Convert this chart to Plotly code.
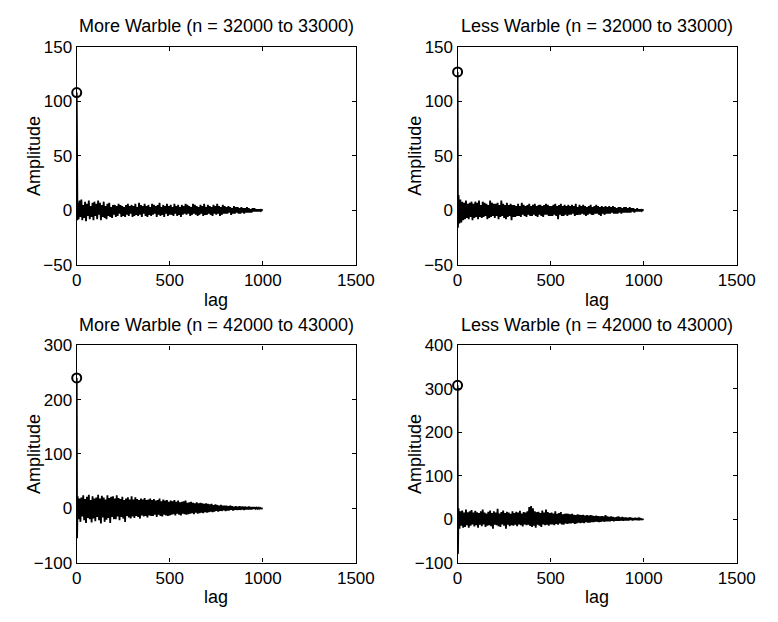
import plotly.graph_objects as go

# lags: 0..4 then every 5 up to 1000
lags = [0, 1, 2, 3, 4] + list(range(5, 1001, 5))

titles = [
    "More Warble (n = 32000 to 33000)",
    "Less Warble (n = 32000 to 33000)",
    "More Warble (n = 42000 to 43000)",
    "Less Warble (n = 42000 to 43000)",
]

more_32000 = [108, 2, -6, 5, -9,
    7, -8, 9, -6, 10, -9, 5, -7, 8, -10, 6, -5, 9, -8, 4, -6, 7, -9, 8, -5,
    6, -8, 9, -4, 7, -9, 5, -6, 8, -7, 4, -8, 6, -5, 7, -6, 3, -7, 5, -4,
    5, -6, 4, -5, 6, -3, 5, -6, 4, -5, 3, -6, 5, -4, 6, -5, 4, -3, 5, -6,
    4, -5, 6, -4, 3, -5, 7, -4, 5, -6, 4, -3, 6, -5, 4, -6, 5, -4, 3, -5,
    6, -4, 5, -3, 4, -6, 5, -4, 7, -5, 3, -4, 5, -6, 4, -3, 6, -5, 4, -4,
    5, -4, 3, -5, 6, -3, 4, -5, 5, -4, 3, -6, 5, -4, 4, -3, 6, -4, 5, -3,
    4, -5, 3, -4, 6, -3, 5, -4, 4, -5, 3, -4, 5, -3, 4, -5, 6, -4, 3, -4,
    5, -3, 4, -4, 3, -5, 5, -3, 4, -4, 6, -3, 4, -5, 3, -4, 5, -3, 4, -3,
    3, -3, 4, -2, 3, -4, 2, -3, 4, -3, 3, -2, 3, -3, 2, -3, 3, -2, 2, -3,
    2, -2, 3, -2, 2, -2, 1, -2, 2, -1, 2, -1, 1, -1, 1, -1, 1, -0.5, 0.5, 0]

less_32000 = [127, 18, -16, 12, -14,
    14, -12, 10, -11, 8, -9, 7, -8, 9, -7, 6, -8, 7, -6, 8, -9, 6, -7, 8, -6,
    7, -8, 9, -6, 5, -7, 8, -6, 7, -5, 6, -8, 5, -7, 9, -6, 7, -5, 6, -7,
    6, -5, 7, -8, 5, -6, 9, -5, 6, -7, 5, -8, 7, -6, 5, -5, 6, -9, 5, -6,
    5, -6, 4, -5, 6, -5, 4, -6, 7, -4, 5, -5, 4, -6, 5, -4, 6, -5, 4, -5,
    5, -4, 6, -5, 4, -6, 5, -4, 5, -5, 4, -6, 5, -4, 6, -4, 5, -5, 4, -5,
    4, -5, 5, -4, 6, -5, 4, -8, 5, -4, 6, -5, 4, -5, 5, -4, 4, -5, 5, -4,
    4, -4, 5, -3, 4, -5, 6, -4, 3, -4, 5, -4, 4, -3, 5, -4, 4, -5, 3, -4,
    4, -3, 5, -4, 3, -4, 4, -3, 5, -3, 4, -4, 3, -5, 4, -3, 3, -4, 4, -3,
    3, -3, 4, -3, 3, -2, 4, -3, 3, -3, 2, -3, 3, -2, 3, -3, 2, -2, 3, -2,
    3, -2, 2, -2, 3, -2, 2, -1, 2, -2, 1, -1, 2, -1, 1, -1, 1, -0.5, 0.5, 0]

more_42000 = [240, 20, -55, 25, -28,
    22, -20, 18, -25, 20, -15, 24, -22, 17, -27, 21, -18, 25, -20, 15, -26, 22, -19, 18, -24,
    20, -16, 25, -22, 18, -28, 23, -17, 20, -25, 16, -21, 24, -18, 19, -27, 21, -16, 22, -20,
    18, -20, 24, -15, 19, -22, 17, -16, 21, -19, 15, -25, 18, -14, 20, -17, 16, -19, 22, -15,
    16, -18, 20, -14, 17, -16, 15, -19, 18, -13, 16, -15, 19, -14, 15, -17, 16, -13, 18, -14,
    15, -14, 17, -12, 14, -16, 15, -12, 18, -14, 13, -15, 16, -12, 14, -13, 15, -14, 12, -13,
    14, -12, 13, -11, 15, -13, 12, -10, 14, -12, 11, -13, 12, -10, 13, -11, 14, -12, 10, -11,
    11, -10, 12, -9, 10, -11, 9, -8, 11, -10, 9, -9, 10, -8, 9, -9, 8, -7, 9, -8,
    8, -7, 7, -6, 8, -7, 6, -6, 7, -5, 6, -6, 5, -5, 6, -5, 5, -4, 5, -5,
    5, -4, 4, -4, 5, -3, 4, -4, 3, -3, 4, -3, 3, -3, 4, -3, 3, -2, 3, -3,
    3, -2, 2, -2, 3, -2, 2, -2, 2, -1, 2, -1, 1, -1, 1, -1, 1, -0.5, 0.5, 0]

less_42000 = [308, 40, -80, 30, -25,
    25, -22, 18, -15, 20, -20, 15, -18, 22, -14, 16, -20, 18, -15, 21, -12, 15, -17, 19, -14,
    16, -20, 14, -13, 18, -16, 22, -12, 15, -18, 13, -15, 17, -14, 20, -16, 14, -22, 18, -13,
    15, -14, 24, -16, 13, -18, 16, -12, 20, -15, 14, -22, 17, -13, 15, -16, 12, -14, 18, -15,
    14, -13, 17, -16, 15, -12, 19, -14, 13, -17, 16, -12, 15, -14, 18, -13, 28, -16, 30, -18,
    25, -15, 18, -20, 16, -13, 17, -15, 14, -18, 20, -12, 15, -14, 22, -13, 16, -15, 14, -12,
    15, -12, 13, -14, 18, -11, 12, -13, 14, -10, 16, -12, 11, -13, 12, -10, 13, -11, 12, -10,
    11, -10, 12, -9, 10, -11, 9, -10, 11, -8, 10, -9, 9, -8, 10, -9, 8, -7, 9, -8,
    8, -8, 9, -7, 8, -7, 7, -6, 8, -6, 7, -7, 6, -6, 7, -5, 6, -6, 9, -5,
    6, -5, 5, -5, 6, -4, 5, -5, 4, -4, 5, -4, 6, -4, 4, -3, 5, -4, 4, -3,
    4, -3, 3, -3, 4, -2, 3, -3, 2, -2, 3, -2, 2, -2, 2, -1, 1, -1, 0.5, 0]

series = [more_32000, less_32000, more_42000, less_42000]
y_ranges = [[-50, 150], [-50, 150], [-100, 300], [-100, 400]]
y_dtick = [50, 50, 100, 100]
x_ticks = [0, 500, 1000, 1500]

W, H = 778, 622
# panel boxes in pixels: (left, right, top, bottom)
boxes = [(74, 362, 39, 264), (467, 755, 39, 264),
         (74, 362, 347, 571), (467, 755, 347, 571)]

FONT = "Liberation Sans, Arial, Helvetica, sans-serif"
fig = go.Figure()
annotations = []
for i, (vals, box) in enumerate(zip(series, boxes)):
    k = "" if i == 0 else str(i + 1)
    l, r, t, b = box
    fig.add_trace(go.Scatter(x=lags, y=vals, mode="lines",
                             line=dict(color="black", width=1.8),
                             xaxis="x" + k, yaxis="y" + k, showlegend=False))
    fig.add_trace(go.Scatter(x=[lags[0]], y=[vals[0]], mode="markers",
                             marker=dict(symbol="circle-open", size=9,
                                         color="black", line=dict(width=2)),
                             xaxis="x" + k, yaxis="y" + k, showlegend=False,
                             cliponaxis=False))
    xd = [l / W, r / W]
    yd = [1 - b / H, 1 - t / H]
    common = dict(showline=True, linecolor="black", linewidth=1.3, mirror="ticks",
                  ticks="inside", ticklen=4, tickcolor="black", showgrid=False,
                  zeroline=False, tickfont=dict(family=FONT, size=17, color="black"))
    fig.update_layout(**{
        "xaxis" + k: dict(domain=xd, range=[0, 1500], tickvals=x_ticks,
                          anchor="y" + k, **common),
        "yaxis" + k: dict(domain=yd, range=y_ranges[i], dtick=y_dtick[i],
                          anchor="x" + k, **common),
    })
    cx = (l + r) / 2 / W
    annotations.append(dict(text=titles[i], x=cx, y=1 - (t - 21) / H,
                            xref="paper", yref="paper", showarrow=False,
                            xanchor="center", yanchor="middle",
                            font=dict(family=FONT, size=18, color="black")))
    annotations.append(dict(text="lag", x=cx, y=1 - (b + 36) / H,
                            xref="paper", yref="paper", showarrow=False,
                            xanchor="center", yanchor="middle",
                            font=dict(family=FONT, size=18, color="black")))
    annotations.append(dict(text="Amplitude", x=(l - 44) / W, y=1 - (t + b) / 2 / H,
                            xref="paper", yref="paper", showarrow=False,
                            textangle=-90, xanchor="center", yanchor="middle",
                            font=dict(family=FONT, size=18, color="black")))

fig.update_layout(width=W, height=H, margin=dict(l=0, r=0, t=0, b=0),
                  paper_bgcolor="white", plot_bgcolor="white",
                  annotations=annotations, showlegend=False)
fig.write_html("out.html")
